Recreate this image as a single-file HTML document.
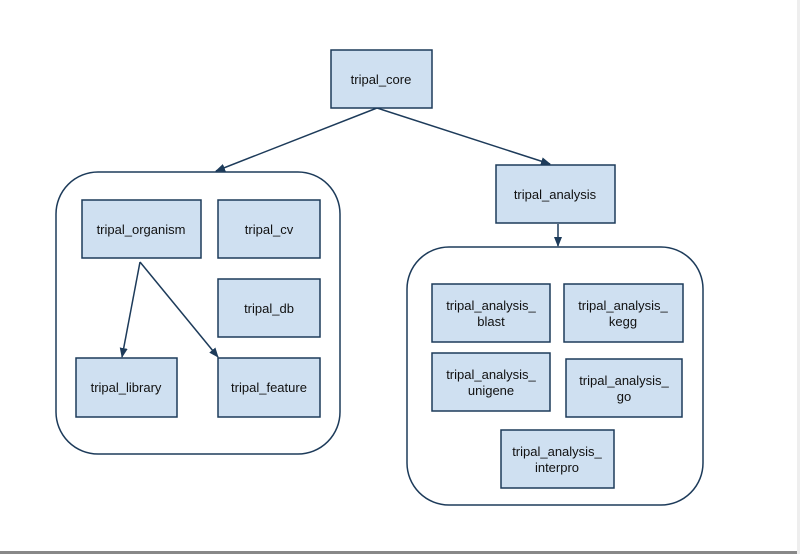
<!DOCTYPE html>
<html><head><meta charset="utf-8"><style>
html,body{margin:0;padding:0;background:#fff;}
svg{display:block;}
text{font-family:"Liberation Sans",sans-serif;font-size:13px;fill:#111;text-anchor:middle;}
.b{fill:#cfe0f1;stroke:#1d3b5a;stroke-width:1.5;}
.c{fill:none;stroke:#1d3b5a;stroke-width:1.5;}
.l{stroke:#1d3b5a;stroke-width:1.5;fill:none;}
</style></head><body>
<svg width="800" height="554" viewBox="0 0 800 554" xmlns="http://www.w3.org/2000/svg">
<defs><marker id="a" markerWidth="10" markerHeight="8" refX="9" refY="4" orient="auto" markerUnits="userSpaceOnUse"><path d="M0,0 L10,4 L0,8 Z" fill="#1d3b5a"/></marker></defs>
<rect x="0" y="551" width="800" height="3" fill="#888"/>
<rect x="797" y="0" width="3" height="554" fill="#eee"/>
<rect class="c" x="56" y="172" width="284" height="282" rx="42"/>
<rect class="c" x="407" y="247" width="296" height="258" rx="42"/>
<line class="l" x1="377" y1="108" x2="216" y2="171" marker-end="url(#a)"/>
<line class="l" x1="377" y1="108" x2="550" y2="164" marker-end="url(#a)"/>
<line class="l" x1="558" y1="224" x2="558" y2="246" marker-end="url(#a)"/>
<line class="l" x1="140" y1="262" x2="122" y2="357" marker-end="url(#a)"/>
<line class="l" x1="140" y1="262" x2="218" y2="357" marker-end="url(#a)"/>
<rect class="b" x="331" y="50" width="101" height="58"/><text x="381" y="84">tripal_core</text>
<rect class="b" x="82" y="200" width="119" height="58"/><text x="141" y="234">tripal_organism</text>
<rect class="b" x="218" y="200" width="102" height="58"/><text x="269" y="234">tripal_cv</text>
<rect class="b" x="218" y="279" width="102" height="58"/><text x="269" y="313">tripal_db</text>
<rect class="b" x="76" y="358" width="101" height="59"/><text x="126" y="392">tripal_library</text>
<rect class="b" x="218" y="358" width="102" height="59"/><text x="269" y="392">tripal_feature</text>
<rect class="b" x="496" y="165" width="119" height="58"/><text x="555" y="199">tripal_analysis</text>
<rect class="b" x="432" y="284" width="118" height="58"/><text x="491" y="310">tripal_analysis_</text><text x="491" y="326">blast</text>
<rect class="b" x="564" y="284" width="119" height="58"/><text x="623" y="310">tripal_analysis_</text><text x="623" y="326">kegg</text>
<rect class="b" x="432" y="353" width="118" height="58"/><text x="491" y="379">tripal_analysis_</text><text x="491" y="395">unigene</text>
<rect class="b" x="566" y="359" width="116" height="58"/><text x="624" y="385">tripal_analysis_</text><text x="624" y="401">go</text>
<rect class="b" x="501" y="430" width="113" height="58"/><text x="557" y="456">tripal_analysis_</text><text x="557" y="472">interpro</text>
</svg>
</body></html>
